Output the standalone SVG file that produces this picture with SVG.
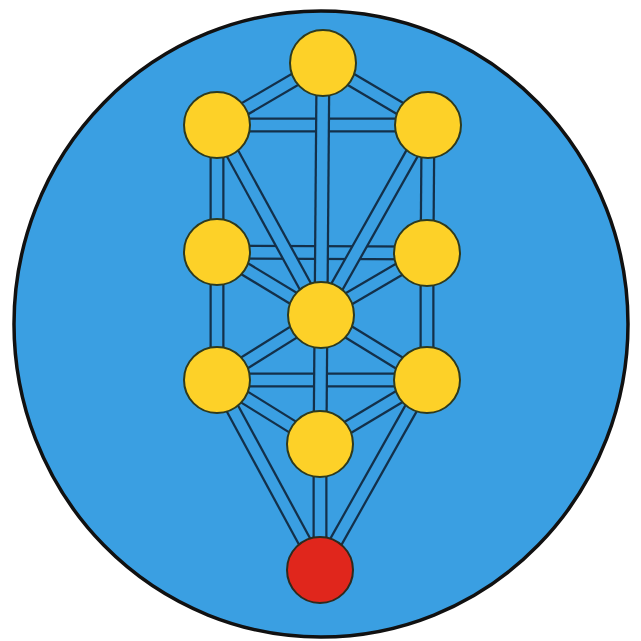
<svg xmlns="http://www.w3.org/2000/svg" width="641" height="641" viewBox="0 0 641 641">
<style>
.o{stroke:#13304a;stroke-width:15;stroke-linecap:butt}
.i{stroke:#3a9fe2;stroke-width:10.5;stroke-linecap:butt}
.n{fill:#fdd128;stroke:#2e3a1e;stroke-width:2}
.r{fill:#e0261c;stroke:#2e2a1e;stroke-width:2}
</style>
<rect width="641" height="641" fill="#ffffff"/>
<ellipse cx="321" cy="324" rx="307" ry="313" fill="#3a9fe2" stroke="#111" stroke-width="3.5"/>
<g id="connectors">
  <!-- horizontals -->
  <line class="o" x1="217" y1="125" x2="428" y2="125"/><line class="i" x1="217" y1="125" x2="428" y2="125"/>
  <line class="o" x1="217" y1="252" x2="427" y2="253"/><line class="i" x1="217" y1="252" x2="427" y2="253"/>
  <line class="o" x1="217" y1="380" x2="427" y2="380"/><line class="i" x1="217" y1="380" x2="427" y2="380"/>
  <!-- diagonals -->
  <line class="o" x1="323" y1="63" x2="217" y2="125"/><line class="i" x1="323" y1="63" x2="217" y2="125"/>
  <line class="o" x1="323" y1="63" x2="428" y2="125"/><line class="i" x1="323" y1="63" x2="428" y2="125"/>
  <line class="o" x1="217" y1="125" x2="321" y2="315"/><line class="i" x1="217" y1="125" x2="321" y2="315"/>
  <line class="o" x1="428" y1="125" x2="321" y2="315"/><line class="i" x1="428" y1="125" x2="321" y2="315"/>
  <line class="o" x1="217" y1="252" x2="321" y2="315"/><line class="i" x1="217" y1="252" x2="321" y2="315"/>
  <line class="o" x1="427" y1="253" x2="321" y2="315"/><line class="i" x1="427" y1="253" x2="321" y2="315"/>
  <line class="o" x1="217" y1="380" x2="321" y2="315"/><line class="i" x1="217" y1="380" x2="321" y2="315"/>
  <line class="o" x1="427" y1="380" x2="321" y2="315"/><line class="i" x1="427" y1="380" x2="321" y2="315"/>
  <line class="o" x1="217" y1="380" x2="320" y2="444"/><line class="i" x1="217" y1="380" x2="320" y2="444"/>
  <line class="o" x1="427" y1="380" x2="320" y2="444"/><line class="i" x1="427" y1="380" x2="320" y2="444"/>
  <line class="o" x1="217" y1="380" x2="320" y2="570"/><line class="i" x1="217" y1="380" x2="320" y2="570"/>
  <line class="o" x1="427" y1="380" x2="320" y2="570"/><line class="i" x1="427" y1="380" x2="320" y2="570"/>
  <!-- verticals -->
  <line class="o" x1="217" y1="125" x2="217" y2="252"/><line class="i" x1="217" y1="125" x2="217" y2="252"/>
  <line class="o" x1="217" y1="252" x2="217" y2="380"/><line class="i" x1="217" y1="252" x2="217" y2="380"/>
  <line class="o" x1="428" y1="125" x2="427" y2="253"/><line class="i" x1="428" y1="125" x2="427" y2="253"/>
  <line class="o" x1="427" y1="253" x2="427" y2="380"/><line class="i" x1="427" y1="253" x2="427" y2="380"/>
  <line class="o" x1="323" y1="63" x2="321" y2="315"/><line class="i" x1="323" y1="63" x2="321" y2="315"/>
  <line class="o" x1="321" y1="315" x2="320" y2="444"/><line class="i" x1="321" y1="315" x2="320" y2="444"/>
  <line class="o" x1="320" y1="444" x2="320" y2="570"/><line class="i" x1="320" y1="444" x2="320" y2="570"/>
</g>
<g id="n1"><circle class="n" cx="323" cy="63" r="33"/></g>
<g id="n2"><circle class="n" cx="217" cy="125" r="33"/></g>
<g id="n3"><circle class="n" cx="428" cy="125" r="33"/></g>
<g id="n4"><circle class="n" cx="217" cy="252" r="33"/></g>
<g id="n5"><circle class="n" cx="427" cy="253" r="33"/></g>
<g id="n6"><circle class="n" cx="321" cy="315" r="33"/></g>
<g id="n7"><circle class="n" cx="217" cy="380" r="33"/></g>
<g id="n8"><circle class="n" cx="427" cy="380" r="33"/></g>
<g id="n9"><circle class="n" cx="320" cy="444" r="33"/></g>
<g id="n10"><circle class="r" cx="320" cy="570" r="33"/></g>
</svg>
